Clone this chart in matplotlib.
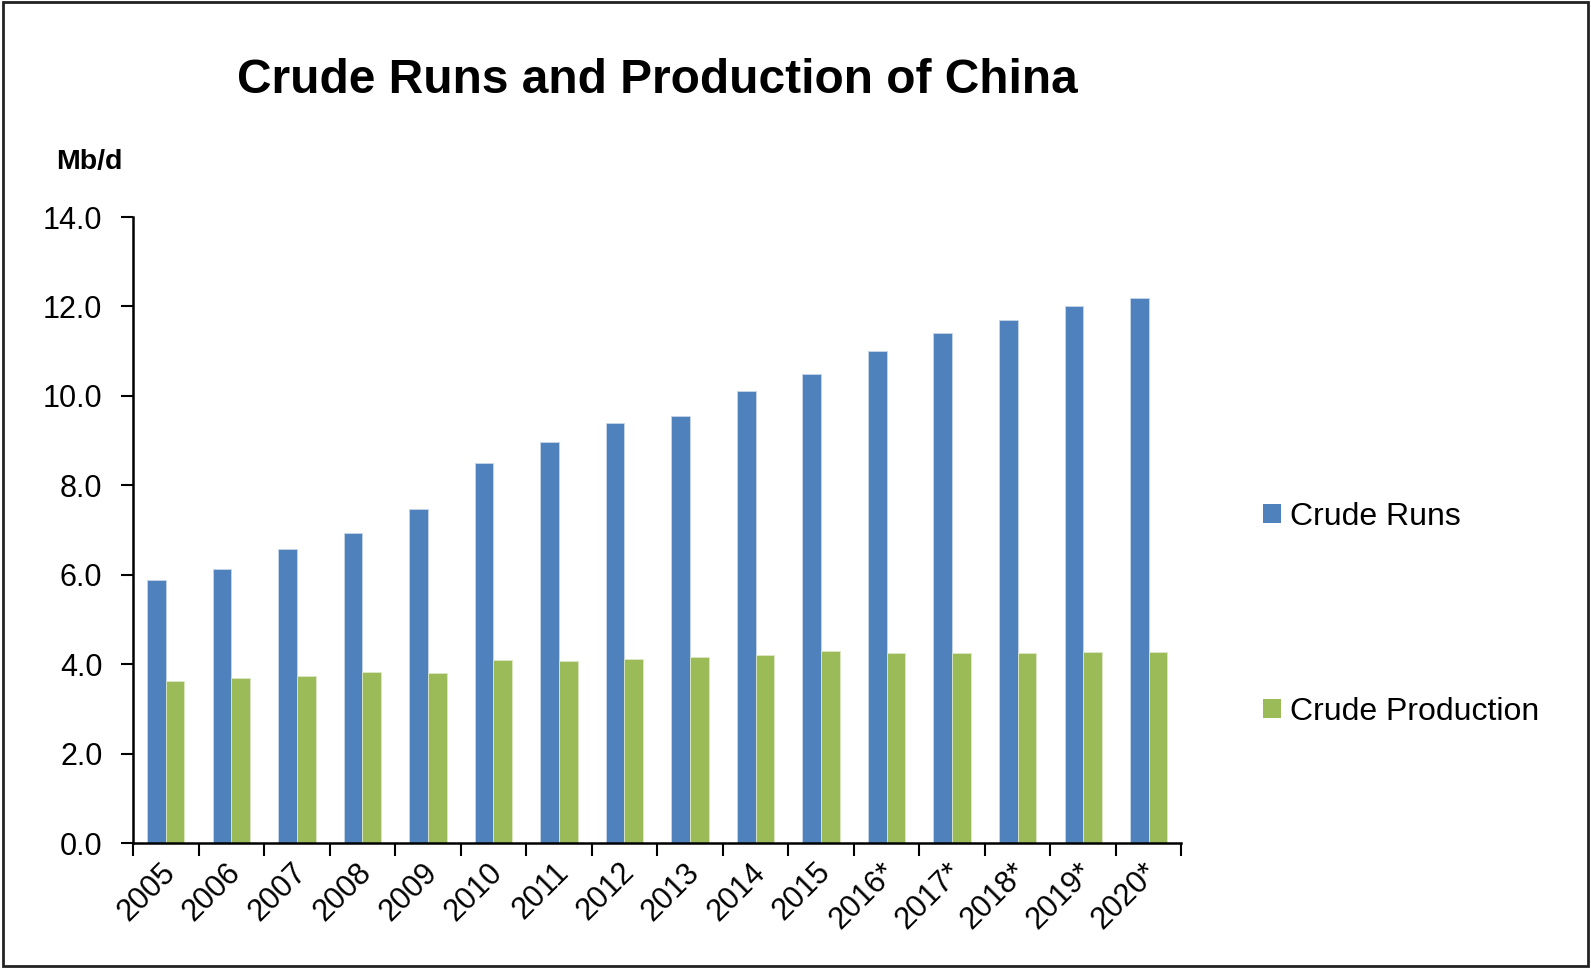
import matplotlib
matplotlib.use("Agg")
import matplotlib.pyplot as plt
import matplotlib.transforms as mtransforms
import numpy as np
from matplotlib.patches import Rectangle, Patch

plt.rcParams['font.family'] = ['Liberation Sans', 'DejaVu Sans']

years = ["2005", "2006", "2007", "2008", "2009", "2010", "2011", "2012",
         "2013", "2014", "2015", "2016*", "2017*", "2018*", "2019*", "2020*"]
crude_runs = [5.89, 6.13, 6.58, 6.94, 7.48, 8.49, 8.98, 9.40,
              9.56, 10.10, 10.50, 11.00, 11.40, 11.70, 12.00, 12.20]
crude_production = [3.63, 3.69, 3.74, 3.82, 3.81, 4.10, 4.08, 4.12,
                    4.17, 4.21, 4.30, 4.25, 4.25, 4.25, 4.28, 4.28]
yticks = [0, 2, 4, 6, 8, 10, 12, 14]

blue = "#4F81BD"
green = "#9BBB59"

fig = plt.figure(figsize=(15.91, 9.69), dpi=100)
ax = fig.add_axes([0.0836, 0.130, 0.659, 0.646])

x = np.arange(len(years))
w = 0.285
ax.bar(x - w / 2, crude_runs, width=w, color=blue, edgecolor="#C9D7EA", linewidth=0.6, label="Crude Runs")
ax.bar(x + w / 2, crude_production, width=w, color=green, edgecolor="#DCE8C6", linewidth=0.6, label="Crude Production")

ax.set_xlim(-0.5, len(years) - 0.5)
ax.set_ylim(0, 14)
ax.set_yticks(yticks)
ax.set_yticklabels([f"{v:.1f}" for v in yticks], fontsize=22)
ax.tick_params(axis='y', direction='out', length=9, width=1.5, pad=13)

ax.set_xticks(x)
ax.set_xticklabels(years, fontsize=22, rotation=45, ha='right', rotation_mode='anchor', va='center')
ax.tick_params(axis='x', which='major', length=0, pad=20)
ax.set_xticks(np.arange(len(years) + 1) - 0.5, minor=True)
ax.tick_params(axis='x', which='minor', direction='out', length=9, width=1.5)
offset = mtransforms.ScaledTranslation(5 / 100, 3 / 100, fig.dpi_scale_trans)
for lab in ax.get_xticklabels():
    lab.set_transform(lab.get_transform() + offset)

for s in ['top', 'right']:
    ax.spines[s].set_visible(False)
for s in ['left', 'bottom']:
    ax.spines[s].set_linewidth(1.8)
    ax.spines[s].set_color('black')

fig.text(0.413, 0.917, "Crude Runs and Production of China", fontsize=34.5,
         fontweight='bold', ha='center', va='center')
fig.text(0.035, 0.833, "Mb/d", fontsize=20.5, fontweight='bold', ha='left', va='center')

handles = [Patch(facecolor=blue), Patch(facecolor=green)]
fig.legend(handles, ["Crude Runs", "Crude Production"], loc='center left',
           bbox_to_anchor=(0.794, 0.366), frameon=False, fontsize=23,
           handlelength=0.55, handleheight=0.55, handletextpad=0.3,
           labelspacing=5.15, borderpad=0, borderaxespad=0)

fig.patches.append(Rectangle((0.002, 0.003), 0.996, 0.995, transform=fig.transFigure,
                             fill=False, edgecolor='#222222', linewidth=2))

fig.savefig("out.png", dpi=100, facecolor='white')
